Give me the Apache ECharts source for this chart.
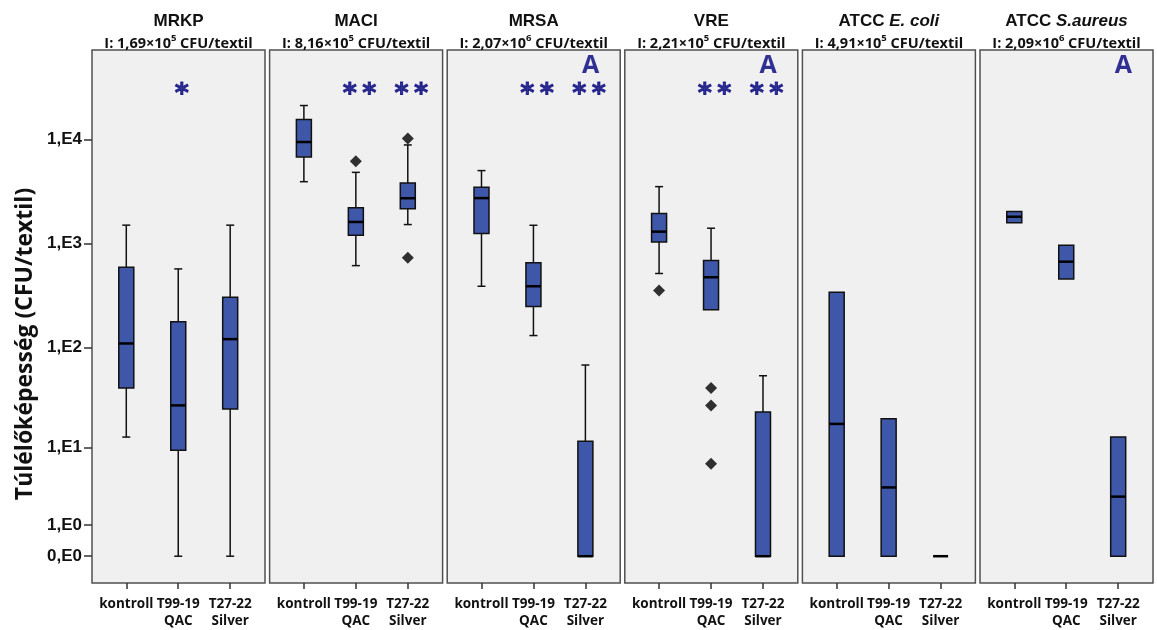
<!DOCTYPE html>
<html><head><meta charset="utf-8">
<script src="https://cdn.jsdelivr.net/npm/echarts@6/dist/echarts.min.js"></script>
<style>html,body{margin:0;padding:0;background:#fff}#c{width:1157px;height:630px}</style>
</head><body><div id="c"></div><script>
// ---- data ----
const categories = ['kontroll', 'T99-19\nQAC', 'T27-22\nSilver'];
const panelNames = [['MRKP', ''], ['MACI', ''], ['MRSA', ''], ['VRE', ''], ['ATCC ', 'E. coli'], ['ATCC ', 'S.aureus']];
const inoculum = [['1,69', '5'], ['8,16', '5'], ['2,07', '6'], ['2,21', '5'], ['4,91', '5'], ['2,09', '6']];
const tickValues = [0, 1, 10, 100, 1000, 10000];
const tickLabels = ['0,E0', '1,E0', '1,E1', '1,E2', '1,E3', '1,E4'];
// box stats per category: [min, q1, median, q3, max] in CFU/textil
const mrkp = [[12.9, 40, 109, 590, 1500], [0, 9.4, 27, 177, 570], [0, 24.8, 120, 305, 1500]];
const maci = [[3920, 6780, 9420, 15490, 21100], [613, 1200, 1610, 2200, 4820], [1520, 2150, 2720, 3810, 8830]];
const mrsa = [[388, 1244, 2728, 3458, 5010], [130, 248, 388, 652, 1496], [0, 0, 0, 11.7, 67.3]];
const vre = [[515, 1035, 1300, 1944, 3514], [230, 230, 474, 688, 1402], [0, 0, 0, 23.2, 52.9]];
const ecoli = [[0, 0, 17.6, 340, 340], [0, 0, 3.57, 19.8, 19.8], [0, 0, 0, 0, 0]];
const saureus = [[1584, 1584, 1807, 2031, 2031], [456, 456, 669, 963, 963], [0, 0, 2.73, 12.9, 12.9]];
// outliers: [categoryIndex, value]
const maciOut = [[1, 6170], [2, 10160], [2, 731]];
const vreOut = [[0, 353], [1, 40.2], [1, 27], [1, 6.7]];
// significance marks per category
const sigMrkp = ['', '*', ''];
const sigMaci = ['', '**', '**'];
const sigMrsa = ['', '**', '**'];
const sigVre = ['', '**', '**'];
const sigEcoli = ['', '', ''];
const sigSaureus = ['', '', ''];
const letterA = [false, false, true, true, false, true];

const stats = [mrkp, maci, mrsa, vre, ecoli, saureus];
const outliers = [[], maciOut, [], vreOut, [], []];
const sigs = [sigMrkp, sigMaci, sigMrsa, sigVre, sigEcoli, sigSaureus];

// ---- layout ----
const tf = v => Math.log10(v + 1);
const tickPos = tickValues.map(tf);
const L0 = 92, PITCH = 177.6, W = 173, TOP = 50, H = 537;
const YMIN = -0.257, YMAX = 4.857, XMIN = -0.66, XMAX = 2.67;
const FONT = '"Open Sans", "DejaVu Sans", sans-serif';
const BOXW = 15, CAPW = 8, BLUE = '#3e57a8', NAVY = '#00007a';

function renderBox(params, api) {
  const x = api.value(0);
  const mn = api.value(1), q1 = api.value(2), md = api.value(3), q3 = api.value(4), mx = api.value(5);
  const p = v => api.coord([x, v]);
  const cx = p(md)[0];
  const ch = [];
  const ls = { stroke: '#111', lineWidth: 1.5 };
  if (mx > q3) {
    ch.push({ type: 'line', shape: { x1: cx, y1: p(q3)[1], x2: cx, y2: p(mx)[1] }, style: ls });
    ch.push({ type: 'line', shape: { x1: cx - CAPW / 2, y1: p(mx)[1], x2: cx + CAPW / 2, y2: p(mx)[1] }, style: ls });
  }
  if (mn < q1) {
    ch.push({ type: 'line', shape: { x1: cx, y1: p(mn)[1], x2: cx, y2: p(q1)[1] }, style: ls });
    ch.push({ type: 'line', shape: { x1: cx - CAPW / 2, y1: p(mn)[1], x2: cx + CAPW / 2, y2: p(mn)[1] }, style: ls });
  }
  if (q3 > q1) {
    const yt = p(q3)[1], yb = p(q1)[1];
    ch.push({ type: 'rect', shape: { x: cx - BOXW / 2, y: yt, width: BOXW, height: yb - yt }, style: { fill: BLUE, stroke: '#111', lineWidth: 1.5 } });
  }
  ch.push({ type: 'line', shape: { x1: cx - BOXW / 2, y1: p(md)[1], x2: cx + BOXW / 2, y2: p(md)[1] }, style: { stroke: '#000', lineWidth: 2.5 } });
  return { type: 'group', children: ch };
}

const grids = [], xAxes = [], yAxes = [], series = [], graphics = [];
for (let i = 0; i < 6; i++) {
  const left = L0 + i * PITCH;
  grids.push({ left: left, top: TOP, width: W, height: H, show: true, backgroundColor: '#f0f0f0', borderColor: '#505050', borderWidth: 1.5 });
  xAxes.push({
    gridIndex: i, type: 'value', min: XMIN, max: XMAX, position: 'bottom',
    splitLine: { show: false }, axisLine: { show: false, onZero: false },
    axisTick: { show: true, customValues: [0, 1, 2], length: 6, inside: false, lineStyle: { color: '#333', width: 1.5 } },
    axisLabel: { customValues: [0, 1, 2], formatter: v => categories[Math.round(v)], fontFamily: FONT, fontWeight: 'bold', fontSize: 13.5, color: '#111', lineHeight: 17, margin: 13 }
  });
  yAxes.push({
    gridIndex: i, type: 'value', min: YMIN, max: YMAX, position: 'left',
    splitLine: { show: false }, axisLine: { show: false, onZero: false },
    axisTick: { show: i === 0, customValues: tickPos, length: 8, lineStyle: { color: '#333', width: 1.5 } },
    axisLabel: {
      show: i === 0, customValues: tickPos, margin: 10,
      formatter: v => { const k = tickPos.findIndex(t => Math.abs(t - v) < 1e-6); return k >= 0 ? tickLabels[k] : ''; },
      fontFamily: '"Liberation Sans", Arial, sans-serif', fontWeight: 'bold', fontSize: 17, color: '#111'
    }
  });
  series.push({
    type: 'custom', xAxisIndex: i, yAxisIndex: i, renderItem: renderBox,
    encode: { x: 0, y: [1, 2, 3, 4, 5] },
    data: stats[i].map((s, j) => [j].concat(s.map(tf)))
  });
  if (outliers[i].length) {
    series.push({
      type: 'scatter', xAxisIndex: i, yAxisIndex: i, symbol: 'diamond', symbolSize: 12,
      itemStyle: { color: '#000' }, data: outliers[i].map(o => [o[0], tf(o[1])])
    });
  }
  const marks = [];
  sigs[i].forEach((s, j) => { if (s) marks.push({ value: [j + 0.07, 4.43], label: { formatter: s.split('').join('\u2009') } }); });
  if (letterA[i]) marks.push({ value: [2.1, 4.70], label: { formatter: 'A', fontSize: 25, fontFamily: FONT, textBorderWidth: 0 } });
  if (marks.length) {
    series.push({
      type: 'scatter', xAxisIndex: i, yAxisIndex: i, symbolSize: 0, silent: true,
      label: { show: true, position: 'inside', color: NAVY, fontSize: 27, fontWeight: 'bold', fontFamily: '"DejaVu Sans", sans-serif', textBorderColor: NAVY, textBorderWidth: 0.9 },
      data: marks
    });
  }
  const nm = panelNames[i];
  graphics.push({
    type: 'text', x: left + W / 2, y: 21,
    style: {
      text: '{b|' + nm[0] + '}' + (nm[1] ? '{bi|' + nm[1] + '}' : ''),
      align: 'center', verticalAlign: 'middle',
      rich: {
        b: { fontFamily: '"Liberation Sans", Arial, sans-serif', fontWeight: 'bold', fontSize: 17, fill: '#111' },
        bi: { fontFamily: '"Liberation Sans", Arial, sans-serif', fontWeight: 'bold', fontStyle: 'italic', fontSize: 17, fill: '#111' }
      }
    }
  });
  graphics.push({
    type: 'text', x: left + W / 2, y: 42,
    style: {
      text: '{s|I: ' + inoculum[i][0] + '×10}{p|' + inoculum[i][1] + '}{s| CFU/textil}',
      align: 'center', verticalAlign: 'middle',
      rich: {
        s: { fontFamily: FONT, fontWeight: 'bold', fontSize: 14.5, fill: '#111', lineHeight: 18, verticalAlign: 'bottom' },
        p: { fontFamily: FONT, fontWeight: 'bold', fontSize: 9.5, fill: '#111', lineHeight: 18, verticalAlign: 'top' }
      }
    }
  });
}
graphics.push({
  type: 'text', x: 25, y: 344, rotation: Math.PI / 2,
  style: { text: 'Túlélőképesség (CFU/textil)', fontFamily: FONT, fontWeight: 'bold', fontSize: 23, fill: '#111', align: 'center', verticalAlign: 'middle' }
});

const chart = echarts.init(document.getElementById('c'), null, { renderer: 'canvas' });
chart.setOption({
  animation: false, backgroundColor: '#fff',
  grid: grids, xAxis: xAxes, yAxis: yAxes, series: series, graphic: graphics
});
</script></body></html>
